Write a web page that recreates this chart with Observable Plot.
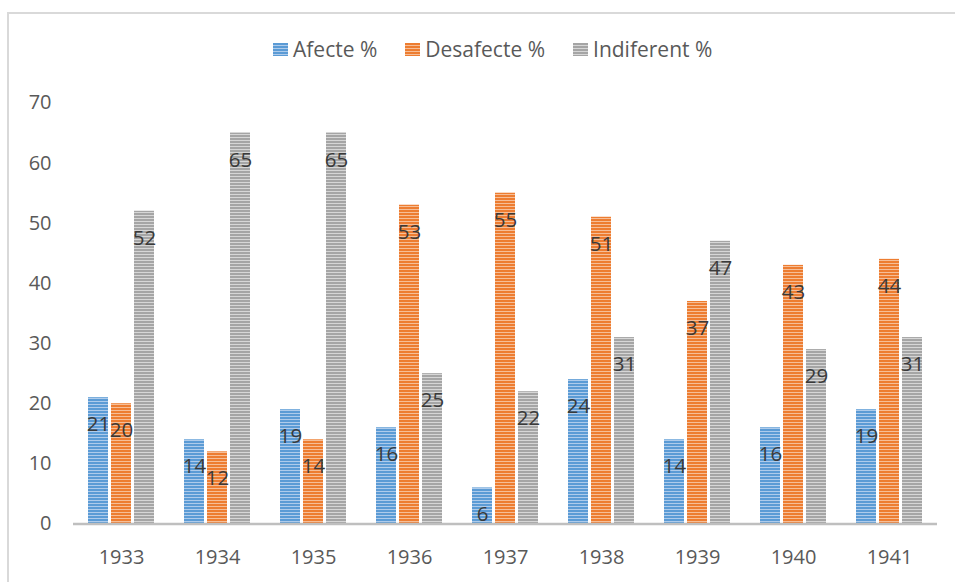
<!DOCTYPE html>
<html>
<head>
<meta charset="utf-8">
<script src="https://cdn.jsdelivr.net/npm/d3@7"></script>
<script src="https://cdn.jsdelivr.net/npm/@observablehq/plot@0.6"></script>
<style>
  html, body { margin: 0; padding: 0; background: #fff; }
  #wrap { position: relative; width: 955px; height: 582px; overflow: hidden; font-family: "Open Sans", sans-serif; }
  #frame { position: absolute; left: 7px; top: 12px; width: 1000px; height: 700px;
           border-left: 2px solid #d9d9d9; border-top: 2px solid #d9d9d9; box-sizing: border-box; }
  #legend { position: absolute; left: 273px; top: 35px; display: flex; align-items: center;
            font-size: 21px; color: #595959; white-space: nowrap; }
  .item { display: flex; align-items: center; margin-right: 28px; }
  .sw { width: 15px; height: 13px; margin-right: 5px; }
  #chart { position: absolute; left: 0; top: 0; }
</style>
</head>
<body>
<div id="wrap">
  <div id="frame"></div>
  <div id="chart"></div>
  <div id="legend"></div>
</div>
<script>
const years = ["1933","1934","1935","1936","1937","1938","1939","1940","1941"];
const series = ["Afecte %","Desafecte %","Indiferent %"];
const afecte = [21,14,19,16,6,24,14,16,19];
const desafecte = [20,12,14,53,55,51,37,43,44];
const indiferent = [52,65,65,25,22,31,47,29,31];
const yTicks = [0,10,20,30,40,50,60,70];
const darkColors = ["#5b9bd5","#ed7d31","#a5a5a5"];
const lightColors = ["#aecbeb","#f6be97","#d6d6d6"];

const values = [afecte, desafecte, indiferent];
const data = years.flatMap((yr, i) => series.map((s, j) => ({year: yr, series: s, value: values[j][i]})));
const patternIds = series.map((s, j) => "stripe" + j);

const plot = Plot.plot({
  width: 955,
  height: 582,
  marginLeft: 72,
  marginRight: 18,
  marginTop: 102.5,
  marginBottom: 58.5,
  style: {fontFamily: "'Open Sans', sans-serif", fontSize: "20px", color: "#595959", background: "transparent"},
  fx: {domain: years, padding: 0, label: null, axis: "bottom", tickSize: 0, tickPadding: 26},
  x: {domain: series, paddingInner: 0.149, paddingOuter: 0.619, axis: null},
  y: {domain: [0, 70], ticks: yTicks, tickSize: 0, tickPadding: 22, label: null},
  color: {type: "ordinal", domain: series, range: patternIds.map(id => `url(#${id})`)},
  marks: [
    Plot.barY(data, {fx: "year", x: "series", y: "value", fill: "series"}),
    Plot.ruleY([0], {stroke: "#bfbfbf", strokeWidth: 2.5}),
    Plot.text(data, {fx: "year", x: "series", y: "value", text: d => String(d.value),
      dy: 27, fill: "#3a3a3a", fontSize: 20.5, fontFamily: "'Open Sans', sans-serif"})
  ]
});

const svg = plot.tagName.toLowerCase() === "svg" ? plot : plot.querySelector("svg");
const ns = "http://www.w3.org/2000/svg";
const defs = document.createElementNS(ns, "defs");
patternIds.forEach((id, j) => {
  const p = document.createElementNS(ns, "pattern");
  p.setAttribute("id", id);
  p.setAttribute("patternUnits", "userSpaceOnUse");
  p.setAttribute("width", "4");
  p.setAttribute("height", "3");
  const r1 = document.createElementNS(ns, "rect");
  r1.setAttribute("width", "4"); r1.setAttribute("height", "3"); r1.setAttribute("fill", lightColors[j]);
  const r2 = document.createElementNS(ns, "rect");
  r2.setAttribute("width", "4"); r2.setAttribute("height", "2"); r2.setAttribute("fill", darkColors[j]);
  p.appendChild(r1); p.appendChild(r2);
  defs.appendChild(p);
});
svg.insertBefore(defs, svg.firstChild);
document.getElementById("chart").appendChild(plot);

const legend = document.getElementById("legend");
series.forEach((s, j) => {
  const item = document.createElement("div");
  item.className = "item";
  const sw = document.createElement("div");
  sw.className = "sw";
  sw.style.background = `repeating-linear-gradient(to bottom, ${darkColors[j]} 0px, ${darkColors[j]} 2px, ${lightColors[j]} 2px, ${lightColors[j]} 3px)`;
  const label = document.createElement("span");
  label.textContent = s;
  item.appendChild(sw); item.appendChild(label);
  legend.appendChild(item);
});
</script>
</body>
</html>
